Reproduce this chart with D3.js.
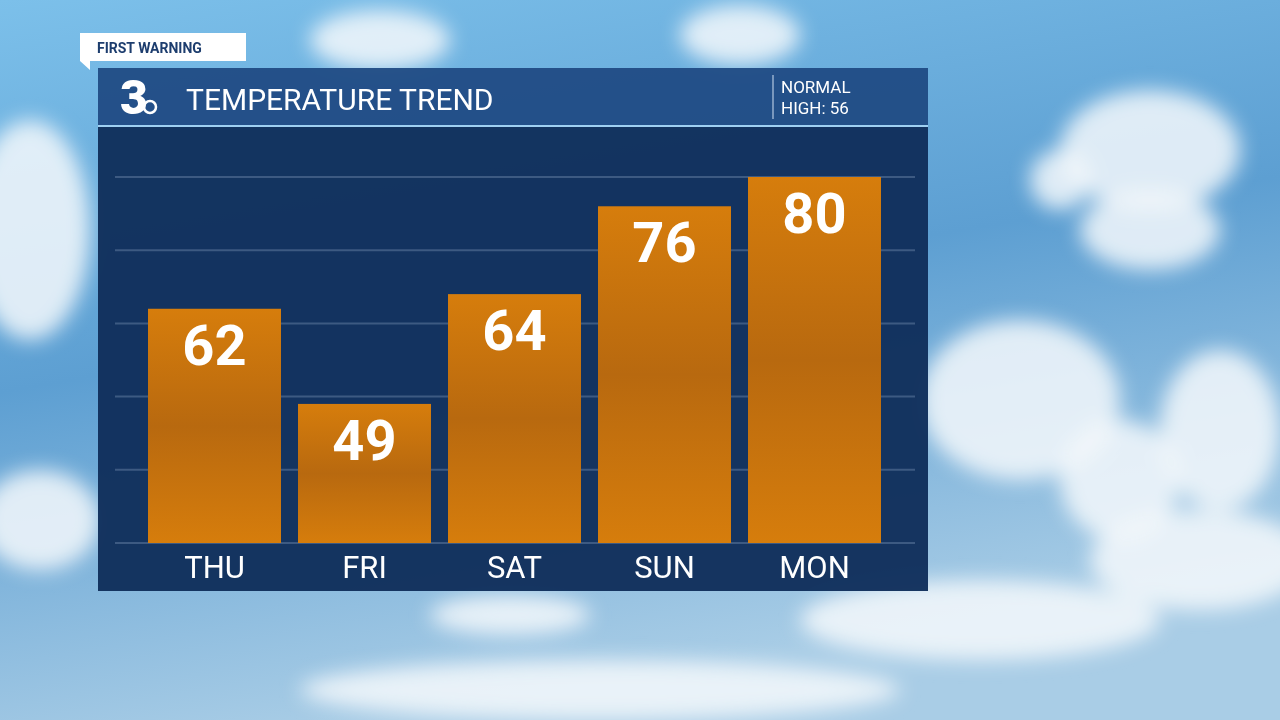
<!DOCTYPE html>
<html><head><meta charset="utf-8">
<script src="https://cdn.jsdelivr.net/npm/d3@7"></script>
<style>body{margin:0;overflow:hidden}svg{display:block}</style></head>
<body><svg id="c" width="1280" height="720"></svg>
<script>
const days = ["THU","FRI","SAT","SUN","MON"];
const highs = [62,49,64,76,80];
const ticks = [30,40,50,60,70,80];
const title = "TEMPERATURE TREND";
const normalLines = ["NORMAL","HIGH: 56"];

const svg = d3.select("#c");
const defs = svg.append("defs");
const sky = defs.append("linearGradient").attr("id","sky").attr("x1",0).attr("y1",0).attr("x2",0.3).attr("y2",1);
sky.append("stop").attr("offset",0).attr("stop-color","#7cc0ea");
sky.append("stop").attr("offset",0.5).attr("stop-color","#5d9fd2");
sky.append("stop").attr("offset",1).attr("stop-color","#a9cde6");
const blur = defs.append("filter").attr("id","blur").attr("x","-50%").attr("y","-50%").attr("width","200%").attr("height","200%");
blur.append("feGaussianBlur").attr("stdDeviation",10);
const bar = defs.append("linearGradient").attr("id","bar").attr("x1",0).attr("y1",0).attr("x2",0).attr("y2",1);
bar.append("stop").attr("offset",0).attr("stop-color","#d67d0c");
bar.append("stop").attr("offset",0.5).attr("stop-color","#b8690f");
bar.append("stop").attr("offset",1).attr("stop-color","#d67d0c");

svg.append("rect").attr("width",1280).attr("height",720).attr("fill","url(#sky)");
const clouds = [[1150,150,90,60],[1150,230,70,40],[1060,180,30,30],[1020,400,100,80],[1120,480,60,60],[1220,430,60,80],[1200,560,110,50],[30,230,60,110],[40,520,60,50],[380,40,70,30],[740,35,60,30],[510,615,80,20],[600,690,300,30],[980,620,180,40]];
svg.append("g").attr("filter","url(#blur)").selectAll("ellipse").data(clouds).join("ellipse")
  .attr("cx",d=>d[0]).attr("cy",d=>d[1]).attr("rx",d=>d[2]).attr("ry",d=>d[3]).attr("fill","#f4f8fb").attr("opacity",0.85);

svg.append("path").attr("d","M80,33 H246 V61 H90 L90,70 L80,61 Z").attr("fill","#ffffff");
svg.append("text").attr("x",97).attr("y",53).text("FIRST WARNING").attr("font-family","Roboto").attr("font-weight",700).attr("font-size",14).attr("fill","#1d3d6e");

svg.append("rect").attr("x",98).attr("y",68).attr("width",830).attr("height",58).attr("fill","#204b84").attr("opacity",0.95);
svg.append("rect").attr("x",98).attr("y",125).attr("width",830).attr("height",2).attr("fill","#9fd0f2");
svg.append("text").attr("x",120).attr("y",114).text("3").attr("font-family","Roboto").attr("font-weight",900).attr("font-size",48).attr("fill","#fff");
svg.append("circle").attr("cx",150).attr("cy",107).attr("r",6).attr("fill","none").attr("stroke","#fff").attr("stroke-width",2.5);
svg.append("text").attr("x",186).attr("y",110).text(title).attr("font-family","Roboto").attr("font-size",30).attr("fill","#fff");
svg.append("line").attr("x1",773).attr("x2",773).attr("y1",75).attr("y2",119).attr("stroke","#cfe0f2").attr("stroke-width",1);
svg.selectAll("text.n").data(normalLines).join("text").attr("class","n").attr("x",781).attr("y",(d,i)=>93+i*21).text(d=>d)
  .attr("font-family","Roboto").attr("font-size",17).attr("fill","#fff");

svg.append("rect").attr("x",98).attr("y",127).attr("width",830).attr("height",464).attr("fill","#11305c").attr("opacity",0.97);

const x = d3.scaleBand().domain(days).range([139.5,889.5]).padding(0);
const bw = 133, off = (x.bandwidth()-bw)/2;
const y = d3.scaleLinear().domain([30,80]).range([543,177]);
svg.append("g").selectAll("line").data(ticks).join("line").attr("x1",115).attr("x2",915)
  .attr("y1",d=>y(d)).attr("y2",d=>y(d)).attr("stroke","#3d5a82").attr("stroke-width",2);

svg.append("g").selectAll("rect").data(days).join("rect")
  .attr("x",d=>x(d)+off).attr("width",bw).attr("y",(d,i)=>y(highs[i])).attr("height",(d,i)=>y(30)-y(highs[i])).attr("fill","url(#bar)");
svg.append("g").selectAll("text").data(days).join("text")
  .attr("x",d=>x(d)+x.bandwidth()/2).attr("y",(d,i)=>y(highs[i])+56).attr("text-anchor","middle").text((d,i)=>highs[i])
  .attr("font-family","Roboto").attr("font-weight",700).attr("font-size",56).attr("fill","#fff");
svg.append("g").selectAll("text").data(days).join("text")
  .attr("x",d=>x(d)+x.bandwidth()/2).attr("y",578).attr("text-anchor","middle").text(d=>d)
  .attr("font-family","Roboto").attr("font-size",31).attr("fill","#fff");
</script></body></html>
